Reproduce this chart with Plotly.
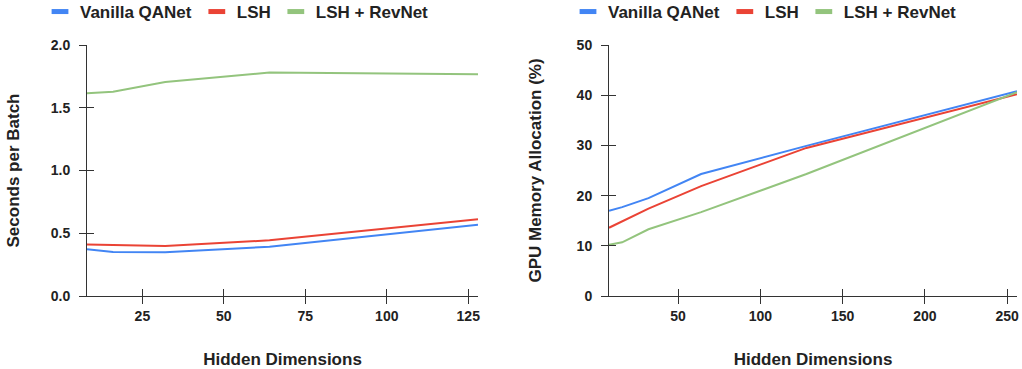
import plotly.graph_objects as go

# ---- data ----
series_names = ["Vanilla QANet", "LSH", "LSH + RevNet"]
colors = ["#4285F4", "#EA4335", "#93C47D"]

hidden_left = [8, 16, 32, 64, 128]
sec_vanilla = [0.372, 0.350, 0.348, 0.393, 0.568]
sec_lsh = [0.410, 0.405, 0.398, 0.444, 0.611]
sec_revnet = [1.615, 1.628, 1.705, 1.780, 1.766]

hidden_right = [8, 16, 32, 64, 128, 256]
mem_vanilla = [17.0, 17.7, 19.5, 24.3, 29.9, 40.8]
mem_lsh = [13.6, 14.9, 17.4, 21.9, 29.5, 40.2]
mem_revnet = [10.2, 10.7, 13.3, 16.7, 24.3, 40.6]

left_xticks = [25, 50, 75, 100, 125]
left_yticks = [0.0, 0.5, 1.0, 1.5, 2.0]
right_xticks = [50, 100, 150, 200, 250]
right_yticks = [0, 10, 20, 30, 40, 50]

x_title = "Hidden Dimensions"
left_y_title = "Seconds per Batch"
right_y_title = "GPU Memory Allocation (%)"

# ---- figure ----
W, H = 1022, 369
ML, MR, MT, MB = 87, 5, 45, 73
pw = W - ML - MR
ph = H - MT - MB

FONT = "Arial, Liberation Sans, sans-serif"
TXT = "#222222"
tickfont = dict(family=FONT, size=14, color=TXT, weight="bold")
titlefont = dict(family=FONT, size=17, color=TXT, weight="bold")

fig = go.Figure()

left_data = [sec_vanilla, sec_lsh, sec_revnet]
right_data = [mem_vanilla, mem_lsh, mem_revnet]

for name, c, ys in zip(series_names, colors, left_data):
    fig.add_trace(go.Scatter(x=hidden_left, y=ys, mode="lines", name=name,
                             line=dict(color=c, width=2), showlegend=False,
                             xaxis="x", yaxis="y"))
for name, c, ys in zip(series_names, colors, right_data):
    fig.add_trace(go.Scatter(x=hidden_right, y=ys, mode="lines", name=name,
                             line=dict(color=c, width=2), showlegend=False,
                             xaxis="x2", yaxis="y2"))

# legend entries (short thick swatches)
for lg, xa, ya in [("legend", "x", "y"), ("legend2", "x2", "y2")]:
    for name, c in zip(series_names, colors):
        fig.add_trace(go.Scatter(x=[None], y=[None], mode="markers", name=name,
                                 marker=dict(symbol="line-ew", size=12, color=c,
                                             line=dict(width=5, color=c)),
                                 legend=lg, xaxis=xa, yaxis=ya, showlegend=True))

d1 = [0, (478 - ML) / pw]
d2 = [(609 - ML) / pw, 1]

base_axis = dict(showgrid=False, zeroline=False, showline=True, linecolor="#333333",
                 linewidth=1, ticks="outside", ticklen=7, tickcolor="#333333",
                 tickwidth=1, tickfont=tickfont, automargin=False)

fig.update_layout(
    width=W, height=H,
    margin=dict(l=ML, r=MR, t=MT, b=MB, autoexpand=False),
    paper_bgcolor="white", plot_bgcolor="white",
    xaxis=dict(base_axis, domain=d1, range=[8, 128], tickvals=left_xticks,
               anchor="y", ticklabelstandoff=0,
               title=dict(text=x_title, font=titlefont, standoff=35)),
    yaxis=dict(base_axis, domain=[0, 1], range=[0, 2.0], tickvals=left_yticks,
               tickformat=".1f", anchor="x", ticklabelstandoff=6,
               title=dict(text=left_y_title, font=titlefont, standoff=26)),
    xaxis2=dict(base_axis, domain=d2, range=[8, 256], tickvals=right_xticks,
                anchor="y2", ticklabelstandoff=0,
                title=dict(text=x_title, font=titlefont, standoff=35)),
    yaxis2=dict(base_axis, domain=[0, 1], range=[0, 50], tickvals=right_yticks,
                anchor="x2", ticklabelstandoff=6,
                title=dict(text=right_y_title, font=titlefont, standoff=30)),
    # overlay axes so the tick marks cross the axis lines
    xaxis3=dict(overlaying="x", anchor="y", range=[8, 128], tickvals=left_xticks,
                ticks="inside", ticklen=7, tickcolor="#333333", showticklabels=False,
                showgrid=False, zeroline=False, showline=False, side="bottom"),
    yaxis3=dict(overlaying="y", anchor="x", range=[0, 2.0], tickvals=left_yticks,
                ticks="inside", ticklen=7, tickcolor="#333333", showticklabels=False,
                showgrid=False, zeroline=False, showline=False, side="left"),
    xaxis4=dict(overlaying="x2", anchor="y2", range=[8, 256], tickvals=right_xticks,
                ticks="inside", ticklen=7, tickcolor="#333333", showticklabels=False,
                showgrid=False, zeroline=False, showline=False, side="bottom"),
    yaxis4=dict(overlaying="y2", anchor="x2", range=[0, 50], tickvals=right_yticks,
                ticks="inside", ticklen=7, tickcolor="#333333", showticklabels=False,
                showgrid=False, zeroline=False, showline=False, side="left"),
    legend=dict(orientation="h", x=(40 - ML) / pw, xanchor="left",
                y=1 + (MT + 6) / ph, yanchor="top", font=titlefont,
                bgcolor="rgba(0,0,0,0)"),
    legend2=dict(orientation="h", x=(568 - ML) / pw, xanchor="left",
                 y=1 + (MT + 6) / ph, yanchor="top", font=titlefont,
                 bgcolor="rgba(0,0,0,0)"),
)

# invisible traces to activate overlay axes
fig.add_trace(go.Scatter(x=[None], y=[None], xaxis="x3", yaxis="y3",
                         showlegend=False, hoverinfo="skip"))
fig.add_trace(go.Scatter(x=[None], y=[None], xaxis="x4", yaxis="y4",
                         showlegend=False, hoverinfo="skip"))

fig.write_html("out.html", config={"displayModeBar": False})

# remove the browser's default page margin so the figure sits at (0, 0)
with open("out.html", "r", encoding="utf-8") as f:
    html = f.read()
html = html.replace("<head>", "<head><style>html,body{margin:0;padding:0;overflow:hidden}</style>", 1)
with open("out.html", "w", encoding="utf-8") as f:
    f.write(html)
